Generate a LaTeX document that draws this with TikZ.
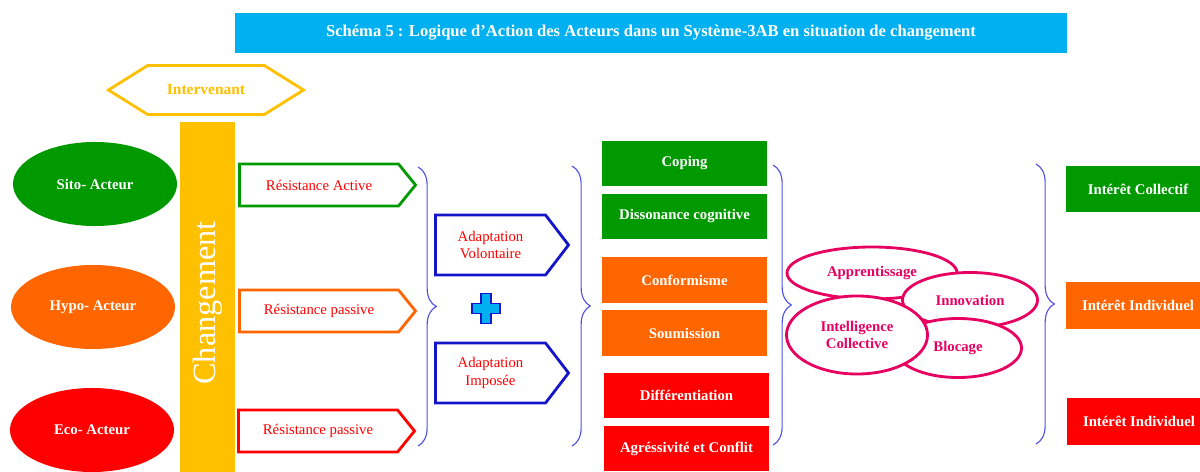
\documentclass[tikz,border=0pt]{standalone}
\usepackage{fontspec}
\setmainfont{Liberation Serif}
\usetikzlibrary{shapes.geometric,shapes.symbols,decorations.pathreplacing}

\definecolor{cgreen}{RGB}{0,153,0}
\definecolor{corange}{RGB}{255,102,0}
\definecolor{cred}{RGB}{255,0,0}
\definecolor{cyellow}{RGB}{255,192,0}
\definecolor{ccyan}{RGB}{0,176,240}
\definecolor{adblue}{RGB}{20,20,200}
\definecolor{bblue}{RGB}{80,80,230}
\definecolor{cpink}{RGB}{232,0,96}

\newcommand{\lblfont}{\fontsize{10.5}{12.5}\selectfont}

\tikzset{
  actor/.style={ellipse, minimum width=4.1cm, minimum height=2.1cm, inner sep=0pt,
    text=white, font=\bfseries\lblfont},
  resist/.style={signal, signal to=east, signal pointer angle=102, fill=white,
    line width=2pt, minimum width=4.4cm, minimum height=1.05cm, inner sep=0pt,
    text=cred, font=\lblfont},
  adapt/.style={signal, signal to=east, signal pointer angle=105, draw=adblue, fill=white,
    line width=2pt, minimum width=3.325cm, minimum height=1.5cm, inner sep=0pt,
    align=center, text=cred, font=\lblfont},
  strat/.style={rectangle, minimum width=4.125cm, minimum height=1.125cm, inner sep=0pt,
    text=white, font=\bfseries\lblfont},
  interet/.style={rectangle, minimum width=3.6cm, minimum height=1.15cm, inner sep=0pt,
    text=white, font=\bfseries\lblfont},
  synth/.style={ellipse, draw=cpink, fill=white, line width=2pt, inner sep=0pt,
    align=center, text=cpink, font=\bfseries\lblfont},
  bracket/.style={draw=bblue, line width=0.8pt, decorate, decoration={brace, amplitude=13pt}}
}

\begin{document}
\begin{tikzpicture}[x=0.025cm, y=-0.025cm]
\useasboundingbox (0,0) rectangle (1200,472);
\clip (0,0) rectangle (1200,472);

% Title
\node[rectangle, fill=ccyan, minimum width=20.8cm, minimum height=1cm, text=white,
  font=\bfseries\fontsize{11.8}{13}\selectfont] (title) at (651,33)
  {Schéma 5 : Logique d’Action des Acteurs dans un Système-3AB en situation de changement};

% Intervenant and the change bar
\node[signal, signal to=east and west, signal pointer angle=64, draw=cyellow, fill=white,
  line width=2pt, minimum width=4.875cm, minimum height=1.225cm, inner sep=0pt,
  text=cyellow, font=\bfseries\fontsize{11}{13}\selectfont] (interv) at (206,90) {Intervenant};
\node[rectangle, fill=cyellow, rotate=90, minimum width=9.05cm, minimum height=1.375cm,
  text=white, font=\fontsize{23}{26}\selectfont] (chang) at (207.5,303) {Changement};

% Actors
\node[actor, fill=cgreen] (sito) at (95,184) {Sito- Acteur};
\node[actor, fill=corange] (hypo) at (93,307) {Hypo- Acteur};
\node[actor, fill=cred] (eco) at (92,430) {Eco- Acteur};

% Resistances
\node[resist, draw=cgreen] (ractive) at (319,185) {Résistance Active};
\node[resist, draw=corange] (rpass) at (319,311) {Résistance passive};
\node[resist, draw=cred] (rpassb) at (318,431) {Résistance passive};

% Adaptations
\node[adapt] (avol) at (490.5,245) {Adaptation\\Volontaire};
\node[adapt] (aimp) at (490.5,373) {Adaptation\\Imposée};
\coordinate (plus) at (486,308.5);
\draw[fill=ccyan, draw=adblue, line width=0.8pt] (plus)
  ++(-5,-15) -- ++(10,0) -- ++(0,10) -- ++(9,0) -- ++(0,10) -- ++(-9,0) -- ++(0,10)
  -- ++(-10,0) -- ++(0,-10) -- ++(-9,0) -- ++(0,-10) -- ++(9,0) -- cycle;

% Strategies
\node[strat, fill=cgreen] (coping) at (684.5,163.5) {Coping};
\node[strat, fill=cgreen] (disso) at (684.5,216.5) {Dissonance cognitive};
\node[strat, fill=corange] (confo) at (684.5,280) {Conformisme};
\node[strat, fill=corange] (soum) at (684.5,333) {Soumission};
\node[strat, fill=cred] (diff) at (686.5,395.5) {Différentiation};
\node[strat, fill=cred] (agres) at (686.5,448.5) {Agréssivité et Conflit};

% Overlapping ellipses
\node[synth, minimum width=4.25cm, minimum height=1.3cm] (appr) at (872,273) {Apprentissage};
\node[synth, minimum width=3.375cm, minimum height=1.375cm] (innov) at (970,300) {Innovation};
\node[synth, minimum width=3.175cm, minimum height=1.475cm] (bloc) at (958,348) {Blocage};
\node[synth, minimum width=3.525cm, minimum height=1.95cm] (intel) at (857,335) {Intelligence\\Collective};

% Interests
\node[interet, fill=cgreen] (icoll) at (1138,189) {Intérêt Collectif};
\node[interet, fill=corange] (iindiv) at (1138,305.5) {Intérêt Individuel};
\node[interet, fill=cred] (iindivb) at (1139,421.5) {Intérêt Individuel};

% Braces
\foreach \bx/\btop/\bbot in {418/167/446, 572/166/446, 773/165/445, 1036/164/444}
  \draw[bracket] (\bx,\btop) -- (\bx,\bbot);
\end{tikzpicture}
\end{document}
